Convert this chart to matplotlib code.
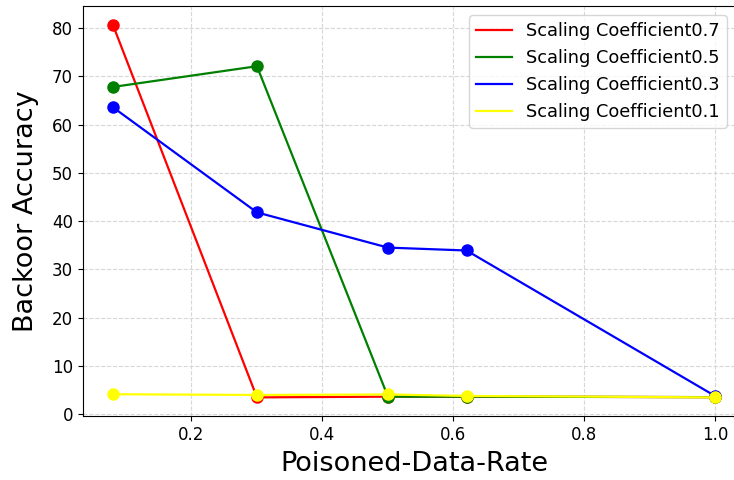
import numpy as np
import matplotlib
matplotlib.use('Agg')
import matplotlib.pyplot as plt

# Poisoned data rates (shared x values)
rates = [0.08, 0.3, 0.5, 0.62, 1.0]

# Backdoor accuracy per scaling coefficient
acc_07 = [80.7, 3.45, 3.6, 3.6, 3.5]
acc_05 = [67.8, 72.1, 3.6, 3.6, 3.5]
acc_03 = [63.6, 41.8, 34.5, 33.9, 3.7]
acc_01 = [4.1, 3.95, 4.05, 3.75, 3.45]

labels = ['Scaling Coefficient0.7', 'Scaling Coefficient0.5',
          'Scaling Coefficient0.3', 'Scaling Coefficient0.1']
colors = ['red', 'green', 'blue', 'yellow']

fig = plt.figure(figsize=(7.34, 4.8), dpi=100)
# axes run slightly past the right edge, as in the original crop
ax = fig.add_axes([0.1127, 0.1333, 0.903, 0.854])

for ys, lab, c in zip([acc_07, acc_05, acc_03, acc_01], labels, colors):
    ax.plot(rates, ys, color=c, lw=1.6, label=lab)
    ax.plot(rates, ys, 'o', color=c, ms=8)

ax.set_yticks(np.arange(0, 81, 10))
ax.set_xticks([0.2, 0.4, 0.6, 0.8, 1.0])
ax.tick_params(labelsize=12)
ax.grid(True, linestyle='--', color='lightgray', alpha=0.9)
ax.set_xlabel('Poisoned-Data-Rate', fontsize=19.5, labelpad=5)
ax.set_ylabel('Backoor Accuracy', fontsize=19.5, labelpad=9)
ax.legend(loc='upper right', fontsize=12.8, framealpha=0.8,
          bbox_to_anchor=(0.985, 1.0))

fig.savefig('out.png', dpi=100)
